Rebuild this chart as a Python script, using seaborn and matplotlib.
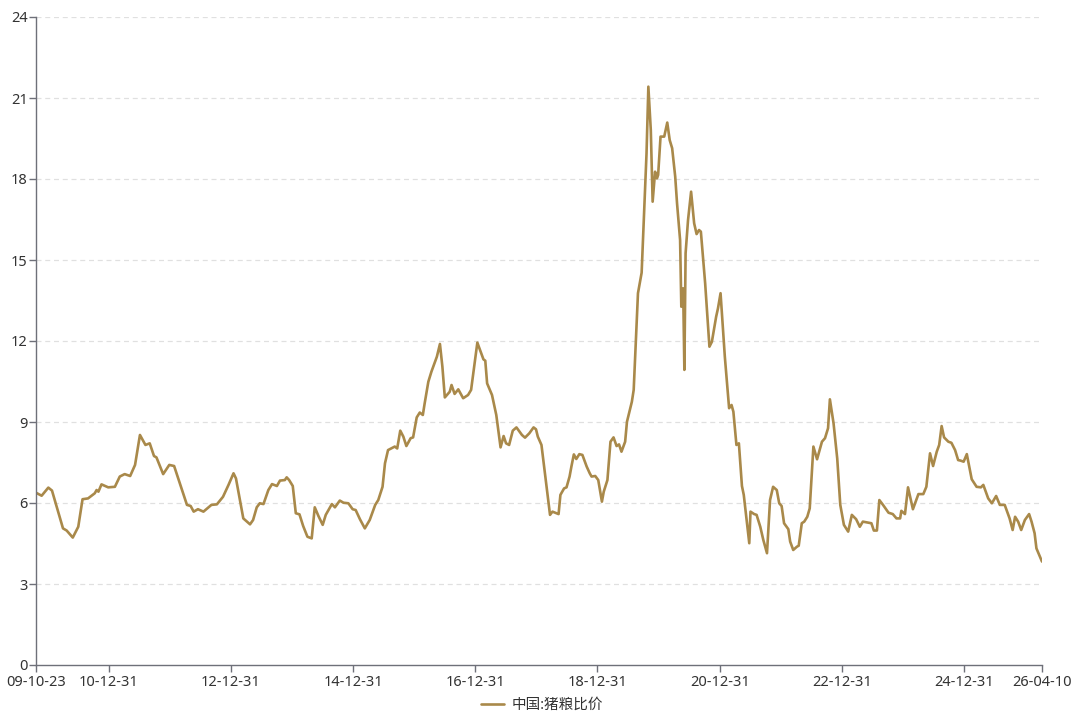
"""China hog-to-grain price ratio, weekly, 2009-2026."""
import matplotlib
matplotlib.use("Agg")
import matplotlib.pyplot as plt
import matplotlib.dates as mdates
import numpy as np
import pandas as pd
import seaborn as sns

SERIES_NAME = "中国:猪粮比价"
LINE_COLOR = "#a9894a"

START_DATE = "2009-10-23"
END_DATE = "2026-04-10"

# decimal-year positions of readings (first/last replaced by exact dates)
years = [
    2009.81, 2009.90, 2010.01, 2010.07, 2010.25, 2010.31, 2010.41, 2010.50, 2010.57, 2010.66,
    2010.77, 2010.80, 2010.83, 2010.88, 2010.99, 2011.10, 2011.18, 2011.26, 2011.35, 2011.43,
    2011.51, 2011.60, 2011.67, 2011.74, 2011.78, 2011.89, 2011.99, 2012.07, 2012.28, 2012.34,
    2012.39, 2012.46, 2012.55, 2012.68, 2012.77, 2012.87, 2012.96, 2013.04, 2013.08, 2013.20,
    2013.31, 2013.36, 2013.42, 2013.47, 2013.53, 2013.61, 2013.67, 2013.75, 2013.80, 2013.88,
    2013.91, 2013.95, 2014.01, 2014.06, 2014.12, 2014.18, 2014.25, 2014.32, 2014.37, 2014.43,
    2014.50, 2014.55, 2014.65, 2014.70, 2014.78, 2014.84, 2014.92, 2014.99, 2015.04, 2015.11,
    2015.19, 2015.27, 2015.36, 2015.41, 2015.48, 2015.52, 2015.57, 2015.68, 2015.72, 2015.77,
    2015.82, 2015.87, 2015.94, 2015.98, 2016.04, 2016.09, 2016.14, 2016.17, 2016.23, 2016.28,
    2016.32, 2016.37, 2016.42, 2016.46, 2016.50, 2016.58, 2016.61, 2016.66, 2016.72, 2016.80,
    2016.88, 2016.93, 2017.03, 2017.13, 2017.16, 2017.19, 2017.27, 2017.34, 2017.41, 2017.46,
    2017.50, 2017.55, 2017.61, 2017.67, 2017.76, 2017.81, 2017.88, 2017.95, 2017.99, 2018.02,
    2018.08, 2018.22, 2018.26, 2018.36, 2018.39, 2018.45, 2018.49, 2018.54, 2018.57, 2018.61,
    2018.65, 2018.70, 2018.75, 2018.82, 2018.87, 2018.90, 2018.96, 2019.01, 2019.07, 2019.10,
    2019.16, 2019.21, 2019.26, 2019.31, 2019.35, 2019.39, 2019.45, 2019.48, 2019.56, 2019.59,
    2019.63, 2019.66, 2019.72, 2019.76, 2019.80, 2019.83, 2019.87, 2019.90, 2019.94, 2019.97,
    2019.99, 2020.03, 2020.09, 2020.14, 2020.18, 2020.22, 2020.27, 2020.30, 2020.35, 2020.37,
    2020.40, 2020.42, 2020.44, 2020.48, 2020.53, 2020.58, 2020.62, 2020.66, 2020.69, 2020.76,
    2020.83, 2020.87, 2020.94, 2020.97, 2021.01, 2021.08, 2021.15, 2021.19, 2021.22, 2021.27,
    2021.31, 2021.36, 2021.39, 2021.48, 2021.50, 2021.56, 2021.60, 2021.66, 2021.71, 2021.77,
    2021.82, 2021.87, 2021.93, 2021.97, 2022.01, 2022.05, 2022.12, 2022.15, 2022.20, 2022.26,
    2022.29, 2022.34, 2022.38, 2022.43, 2022.47, 2022.53, 2022.59, 2022.67, 2022.72, 2022.77,
    2022.80, 2022.86, 2022.92, 2022.97, 2023.03, 2023.10, 2023.16, 2023.23, 2023.29, 2023.34,
    2023.43, 2023.48, 2023.52, 2023.57, 2023.61, 2023.67, 2023.76, 2023.83, 2023.89, 2023.95,
    2023.97, 2024.03, 2024.08, 2024.16, 2024.25, 2024.33, 2024.38, 2024.44, 2024.49, 2024.55,
    2024.59, 2024.63, 2024.67, 2024.74, 2024.79, 2024.85, 2024.90, 2024.94, 2024.99, 2025.04,
    2025.12, 2025.20, 2025.27, 2025.31, 2025.39, 2025.45, 2025.52, 2025.58, 2025.66, 2025.74,
    2025.79, 2025.83, 2025.88, 2025.93, 2025.99, 2026.06, 2026.10, 2026.15, 2026.18, 2026.27,
]

ratio = [
    6.38, 6.27, 6.57, 6.46, 5.06, 4.98, 4.72, 5.12, 6.14, 6.17,
    6.36, 6.48, 6.42, 6.69, 6.58, 6.60, 6.98, 7.07, 7.00, 7.41,
    8.52, 8.15, 8.21, 7.74, 7.69, 7.07, 7.41, 7.37, 5.93, 5.89,
    5.68, 5.77, 5.68, 5.93, 5.95, 6.23, 6.67, 7.10, 6.91, 5.43,
    5.21, 5.37, 5.84, 5.99, 5.96, 6.48, 6.70, 6.63, 6.83, 6.85,
    6.95, 6.85, 6.63, 5.62, 5.58, 5.15, 4.75, 4.69, 5.84, 5.52,
    5.19, 5.56, 5.96, 5.84, 6.09, 6.01, 5.99, 5.77, 5.74, 5.40,
    5.06, 5.37, 5.93, 6.11, 6.60, 7.47, 7.96, 8.09, 8.02, 8.68,
    8.46, 8.11, 8.40, 8.43, 9.17, 9.35, 9.26, 9.69, 10.49, 10.86,
    11.11, 11.42, 11.89, 11.05, 9.91, 10.12, 10.37, 10.04, 10.21, 9.88,
    10.00, 10.19, 11.94, 11.32, 11.27, 10.43, 10.00, 9.26, 8.06, 8.48,
    8.21, 8.15, 8.68, 8.80, 8.52, 8.42, 8.58, 8.80, 8.73, 8.46,
    8.15, 5.56, 5.68, 5.59, 6.30, 6.54, 6.58, 6.98, 7.35, 7.80,
    7.63, 7.81, 7.78, 7.35, 7.10, 6.98, 7.00, 6.85, 6.05, 6.42,
    6.85, 8.27, 8.43, 8.11, 8.17, 7.90, 8.27, 9.01, 9.75, 10.19,
    12.28, 13.77, 14.53, 16.72, 18.95, 21.42, 19.81, 17.16, 18.27, 18.02,
    18.15, 19.57, 19.57, 20.09, 19.44, 19.14, 18.09, 17.10, 15.74, 13.27,
    13.95, 10.93, 15.25, 16.48, 17.53, 16.36, 15.96, 16.11, 16.05, 14.14,
    11.79, 11.97, 12.90, 13.21, 13.77, 11.42, 9.51, 9.63, 9.38, 8.15,
    8.21, 6.63, 6.30, 4.51, 5.68, 5.59, 5.56, 5.12, 4.63, 4.14,
    6.11, 6.60, 6.48, 5.99, 5.89, 5.25, 5.03, 4.57, 4.26, 4.38,
    4.42, 5.25, 5.31, 5.49, 5.80, 8.09, 7.62, 8.27, 8.40, 8.77,
    9.84, 8.95, 7.65, 5.93, 5.19, 4.94, 5.56, 5.40, 5.12, 5.31,
    5.27, 5.25, 4.98, 4.98, 6.11, 5.93, 5.64, 5.59, 5.43, 5.43,
    5.71, 5.59, 6.58, 5.77, 6.33, 6.33, 6.60, 7.84, 7.37, 7.90,
    8.15, 8.85, 8.43, 8.27, 8.23, 7.96, 7.59, 7.57, 7.53, 7.81,
    6.88, 6.60, 6.58, 6.67, 6.17, 5.99, 6.26, 5.93, 5.93, 5.43,
    5.00, 5.49, 5.31, 5.00, 5.37, 5.59, 5.31, 4.88, 4.32, 3.83,
]

x_tick_dates = ["2009-10-23", "2010-12-31", "2012-12-31", "2014-12-31", "2016-12-31",
                "2018-12-31", "2020-12-31", "2022-12-31", "2024-12-31", "2026-04-10"]
y_ticks = [0, 3, 6, 9, 12, 15, 18, 21, 24]


def year_to_date(y):
    base = pd.Timestamp(int(y), 1, 1)
    return base + pd.Timedelta(days=(y - int(y)) * 365.25)


dates = [year_to_date(y) for y in years]
dates[0] = pd.Timestamp(START_DATE)
dates[-1] = pd.Timestamp(END_DATE)
df = pd.DataFrame({"date": dates, "value": ratio, "series": SERIES_NAME})

sns.set_style("white")
plt.rcParams["font.family"] = ["Noto Sans", "Noto Sans CJK SC", "DejaVu Sans"]

fig = plt.figure(figsize=(10.88, 7.17), dpi=100)
ax = fig.add_axes([36 / 1088, 52 / 717, 1006 / 1088, 648 / 717])

sns.lineplot(data=df, x="date", y="value", hue="series", palette=[LINE_COLOR],
             linewidth=1.9, ax=ax, legend=True)

ax.set_xlim(pd.Timestamp(START_DATE), pd.Timestamp(END_DATE))
ax.set_ylim(0, 24)
ax.set_yticks(y_ticks)
ax.set_xticks([pd.Timestamp(d) for d in x_tick_dates])
ax.xaxis.set_major_formatter(mdates.DateFormatter("%y-%m-%d"))
ax.set_xlabel("")
ax.set_ylabel("")

for y in y_ticks[1:]:
    ax.axhline(y, color="#e0e0e0", linestyle=(0, (4, 3)), linewidth=0.9, zorder=0)

for side in ["top", "right"]:
    ax.spines[side].set_visible(False)
for side in ["left", "bottom"]:
    ax.spines[side].set_color("#6e7079")
    ax.spines[side].set_linewidth(1.0)

ax.tick_params(axis="both", direction="out", length=5, width=1, color="#6e7079",
               labelcolor="#333333", labelsize=10.5, bottom=True, left=True)
ax.tick_params(axis="y", pad=1)
ax.tick_params(axis="x", pad=2)

ax.legend(loc="center", bbox_to_anchor=(0.503, -0.062), frameon=False,
          fontsize=10.5, handlelength=1.6, handletextpad=0.5,
          labelcolor="#333333")

fig.savefig("out.png", dpi=100)
